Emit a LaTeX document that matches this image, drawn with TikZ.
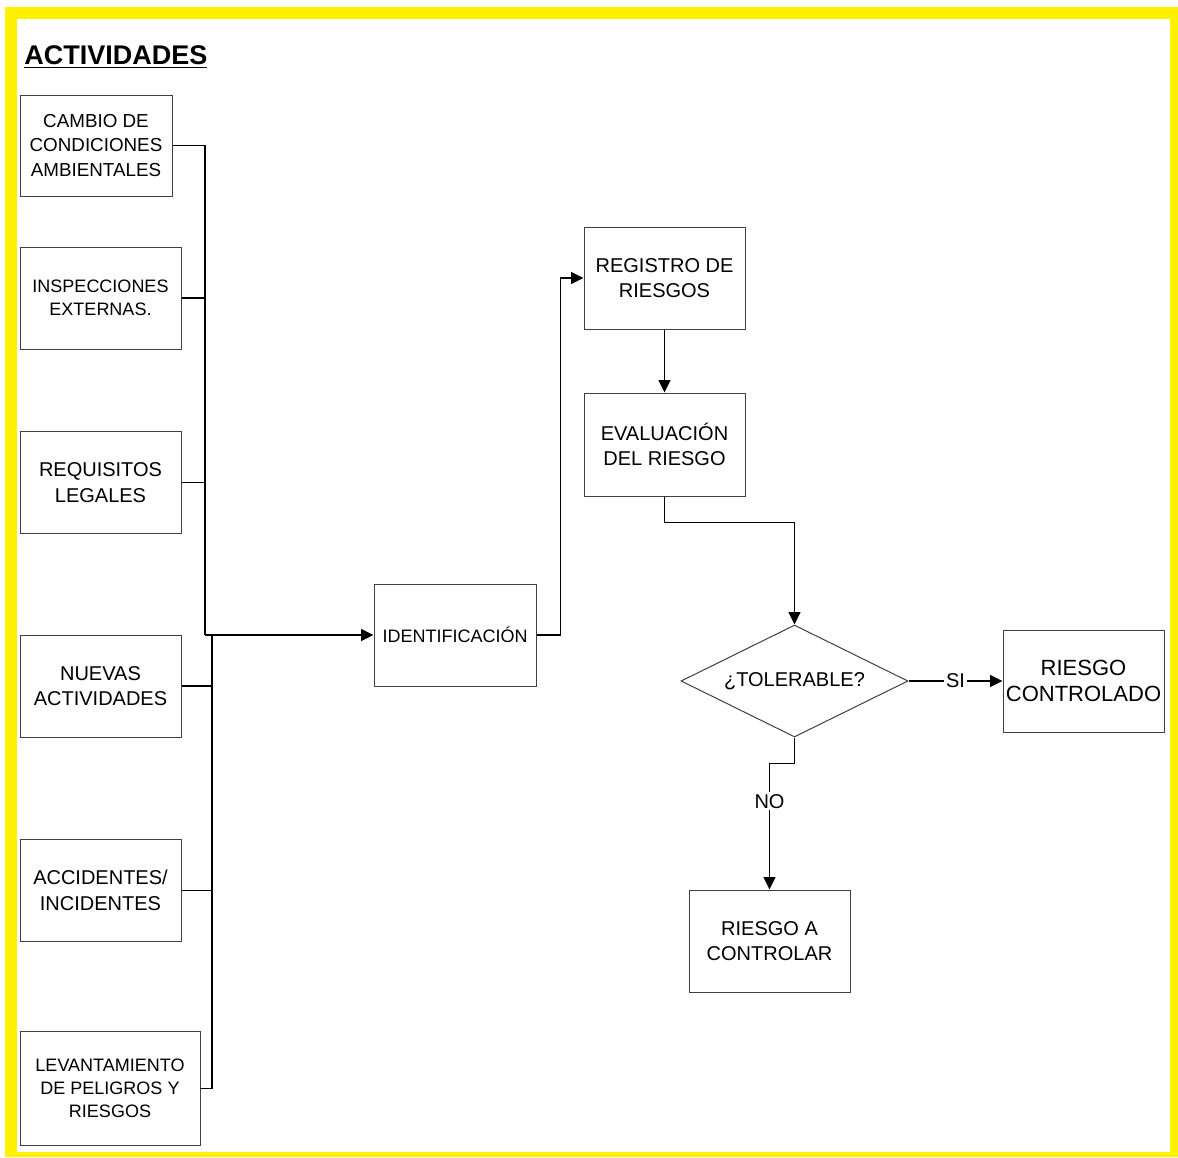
\documentclass[tikz,border=0pt]{standalone}
\usepackage{fontspec}
\setmainfont{Liberation Sans}
\usetikzlibrary{positioning, shapes.geometric, arrows.meta, calc}

\begin{document}
\begin{tikzpicture}[
  x=0.5pt, y=-0.5pt,
  font=\fontsize{10}{12.8}\selectfont,
  box/.style={draw=black!75, line width=0.5pt, align=center, inner sep=1pt,
    minimum width=80.5pt, minimum height=51pt},
  small/.style={font=\fontsize{9}{11.5}\selectfont},
  decision/.style={diamond, draw=black!75, line width=0.5pt, aspect=2, inner sep=0pt,
    minimum width=113.5pt, minimum height=56pt},
  link/.style={line width=0.55pt},
  arrow/.style={link, -{Triangle[length=6.2pt, width=6pt]}},
  tag/.style={fill=white, inner sep=1pt}
]
  \useasboundingbox (0,0) rectangle (1178,1157);
  \fill[yellow] (5,7) rectangle (1178,1157);
  \fill[white] (17,19) rectangle (1170,1152);

  \node[anchor=base west, inner sep=0pt, font=\fontsize{13.5}{16}\selectfont] (titulo) at (24,64)
    {\underline{\textbf{ACTIVIDADES}}};

  \node[box, minimum width=76pt, minimum height=50.5pt, font=\fontsize{9.4}{12.2}\selectfont] (cambio) at (96,145.5)
    {CAMBIO DE\\CONDICIONES\\AMBIENTALES};
  \node[box, small] (inspec) at (100.5,298) {INSPECCIONES\\EXTERNAS.};
  \node[box] (requis) at (100.5,482.5) {REQUISITOS\\LEGALES};
  \node[box] (nuevas) at (100.5,686) {NUEVAS\\ACTIVIDADES};
  \node[box] (accid) at (100.5,890.5) {ACCIDENTES/\\INCIDENTES};
  \node[box, small, minimum width=90pt, minimum height=57pt] (levant) at (110,1088.5)
    {LEVANTAMIENTO\\DE PELIGROS Y\\RIESGOS};

  \node[box, small, minimum width=81pt] (ident) at (455,635) {IDENTIFICACIÓN};
  \node[box] (registro) at (664.5,278) {REGISTRO DE\\RIESGOS};
  \node[box, minimum height=51.5pt] (evalua) at (664.5,444.5) {EVALUACIÓN\\DEL RIESGO};
  \node[decision] (tolera) at (794.5,681) {¿TOLERABLE?};
  \node[box, font=\fontsize{11}{13}\selectfont] (controlado) at (1083.5,681) {RIESGO\\CONTROLADO};
  \node[box] (acontrolar) at (769.5,941) {RIESGO A\\CONTROLAR};

  \coordinate (busA) at (205,635);
  \coordinate (busB) at (212,635);

  \draw[link] (cambio.east) -| (busA);
  \draw[link] (inspec.east) -| (busA);
  \draw[link] (requis.east) -| (busA);
  \draw[link] (nuevas.east) -| (busB);
  \draw[link] (accid.east) -| (busB);
  \draw[link] (levant.east) -| (busB);
  \draw[arrow] (busA) -- (ident.west);

  \draw[arrow] (ident.east) -- ++(24,0) |- (registro.west);
  \draw[arrow] (registro) -- (evalua);
  \draw[arrow] (evalua.south) -- ++(0,26) -| (tolera.north);
  \draw[arrow] (tolera.east) -- node[tag] {SI} (controlado.west);
  \draw[arrow] (tolera.south) -- ++(0,26) -| node[tag, pos=0.65] {NO} (acontrolar.north);
\end{tikzpicture}
\end{document}
